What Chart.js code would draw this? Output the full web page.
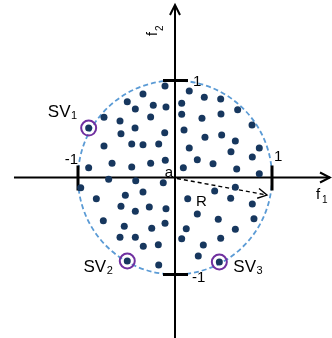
<!DOCTYPE html>
<html>
<head>
<meta charset="utf-8">
<script src="https://cdn.jsdelivr.net/npm/chart.js@4"></script>
<style>
  html, body { margin: 0; padding: 0; background: #fff; }
  #wrap { width: 332px; height: 338px; }
</style>
</head>
<body>
<div id="wrap"><canvas id="chart"></canvas></div>
<script>
// ------------------ DATA ------------------
// sample points inside the unit circle (f1, f2)
const xs = [-0.103, -0.330, -0.492, -0.224, -0.409, -0.093, -0.732, -0.567, -0.251, -0.890,
            -0.412, -0.557, -0.106, -0.732, -0.446, -0.330, -0.168, -0.890, -0.649, -0.446,
            -0.251, -0.100, 0.147, 0.302, 0.471, 0.069, 0.069, 0.278, 0.474, 0.646,
            0.794, 0.093, 0.309, 0.481, 0.622, 0.147, 0.577, 0.869, 0.230, 0.392,
            0.797, 0.086, 0.636, 0.869, -0.684, -0.405, -0.972, -0.121, -0.811, -0.512,
            -0.330, -0.557, -0.409, -0.265, -0.093, -0.739, -0.523, -0.240, -0.103, -0.567,
            -0.409, -0.327, -0.172, -0.492, -0.168, 0.622, 0.409, 0.131, 0.574, 0.797,
            0.230, 0.446, 0.814, 0.116, 0.622, 0.069, 0.471, 0.292, 0.240, 0.457];
const ys = [0.943, 0.861, 0.781, 0.744, 0.706, 0.727, 0.621, 0.582, 0.624, 0.510,
            0.510, 0.452, 0.462, 0.325, 0.345, 0.338, 0.345, 0.101, 0.146, 0.108,
            0.146, 0.177, 0.892, 0.827, 0.809, 0.765, 0.652, 0.610, 0.655, 0.699,
            0.541, 0.490, 0.414, 0.438, 0.376, 0.304, 0.266, 0.304, 0.184, 0.142,
            0.211, 0.101, 0.088, 0.039, -0.019, -0.033, -0.105, -0.054, -0.219, -0.184,
            -0.149, -0.297, -0.348, -0.304, -0.322, -0.445, -0.503, -0.524, -0.472, -0.616,
            -0.616, -0.709, -0.693, -0.861, -0.902, -0.101, -0.139, -0.219, -0.214, -0.273,
            -0.376, -0.431, -0.425, -0.528, -0.534, -0.631, -0.627, -0.696, -0.809, -0.871];

// support vectors
const svLabels = ["1", "2", "3"];
const svX = [-0.890, -0.492, 0.457];
const svY = [0.510, -0.861, -0.871];

const tickLabels = ["1", "-1"];
const radius = 1;
const rAngle = -10.8; // degrees, direction of the R arrow

// ------------------ DRAWING ------------------
const FONT = '"Liberation Sans", Arial, sans-serif';

function chevron(ctx, x, y, ang, len, half) {
  ctx.beginPath();
  const bx = x - len * Math.cos(ang), by = y - len * Math.sin(ang);
  const nx = -Math.sin(ang) * half, ny = Math.cos(ang) * half;
  ctx.moveTo(bx + nx, by + ny);
  ctx.lineTo(x, y);
  ctx.lineTo(bx - nx, by - ny);
  ctx.stroke();
}

const figure = {
  id: "figure",
  beforeDatasetsDraw(chart) {
    const ctx = chart.ctx, sx = chart.scales.x, sy = chart.scales.y;
    const cx = sx.getPixelForValue(0), cy = sy.getPixelForValue(0);
    const ux = sx.getPixelForValue(1) - cx;
    ctx.save();

    // dashed circle
    ctx.strokeStyle = "#5b9bd5"; ctx.lineWidth = 1.8; ctx.setLineDash([5, 3]);
    ctx.beginPath();
    ctx.arc(cx, cy, radius * ux, 0, Math.PI * 2);
    ctx.stroke();
    ctx.setLineDash([]);

    // axes
    ctx.strokeStyle = "#000"; ctx.lineWidth = 2;
    const xl = sx.getPixelForValue(-1.66), xr = sx.getPixelForValue(1.598);
    const yt = sy.getPixelForValue(1.778), yb = sy.getPixelForValue(-1.66);
    ctx.beginPath();
    ctx.moveTo(xl, cy); ctx.lineTo(xr, cy);
    ctx.moveTo(cx, yb); ctx.lineTo(cx, yt);
    ctx.stroke();
    chevron(ctx, xr, cy, 0, 10, 5);
    chevron(ctx, cx, yt, -Math.PI / 2, 10, 5);

    // ticks at +-1
    ctx.lineWidth = 3;
    const p1x = sx.getPixelForValue(1), m1x = sx.getPixelForValue(-1);
    const p1y = sy.getPixelForValue(1), m1y = sy.getPixelForValue(-1);
    ctx.beginPath();
    ctx.moveTo(p1x, cy - 12); ctx.lineTo(p1x, cy + 13);
    ctx.moveTo(m1x, cy - 12); ctx.lineTo(m1x, cy + 13);
    ctx.moveTo(cx - 12, p1y); ctx.lineTo(cx + 13, p1y);
    ctx.moveTo(cx - 12, m1y); ctx.lineTo(cx + 13, m1y);
    ctx.stroke();

    // R arrow
    const a = rAngle * Math.PI / 180;
    const ex = sx.getPixelForValue(0.965 * Math.cos(a)), ey = sy.getPixelForValue(0.965 * Math.sin(a));
    ctx.lineWidth = 1.4; ctx.setLineDash([4, 3]);
    ctx.beginPath(); ctx.moveTo(cx + 2, cy + 1); ctx.lineTo(ex, ey); ctx.stroke();
    ctx.setLineDash([]);
    chevron(ctx, ex, ey, Math.atan2(ey - cy, ex - cx), 9, 5);

    // text
    ctx.fillStyle = "#000";
    ctx.font = "15px " + FONT;
    ctx.textBaseline = "middle";
    ctx.textAlign = "left";
    ctx.fillText(tickLabels[0], cx + 18, p1y + 1);
    ctx.fillText(tickLabels[0], p1x + 2, cy - 21);
    ctx.fillText(tickLabels[1], cx + 17, m1y + 3);
    ctx.textAlign = "right";
    ctx.fillText(tickLabels[1], m1x, cy - 18);

    ctx.font = "15px " + FONT;
    ctx.textBaseline = "alphabetic";
    ctx.fillText("a", cx - 2, cy - 1);
    ctx.textAlign = "left";
    ctx.fillText("R", cx + 21, cy + 28);

    // f1
    ctx.font = "15px " + FONT;
    ctx.fillText("f", xr - 14, cy + 21);
    ctx.font = "10px " + FONT;
    ctx.fillText("1", xr - 8, cy + 25);

    // f2 (rotated)
    ctx.save();
    ctx.translate(cx - 18, yt + 31);
    ctx.rotate(-Math.PI / 2);
    ctx.font = "14px " + FONT;
    ctx.fillText("f", 0, 0);
    ctx.font = "10px " + FONT;
    ctx.fillText("2", 5, 6);
    ctx.restore();

    // SV labels
    const offs = [[-12, -11, "right"], [-15, 11, "right"], [14, 10, "left"]];
    svLabels.forEach((s, i) => {
      const px = sx.getPixelForValue(svX[i]), py = sy.getPixelForValue(svY[i]);
      const [dx, dy, al] = offs[i];
      ctx.font = "17px " + FONT;
      const w = ctx.measureText("SV").width;
      ctx.font = "11px " + FONT;
      const ws = ctx.measureText(s).width;
      const left = al === "right" ? px + dx - w - ws : px + dx;
      ctx.textAlign = "left";
      ctx.font = "17px " + FONT;
      ctx.fillText("SV", left, py + dy);
      ctx.font = "11px " + FONT;
      ctx.fillText(s, left + w + 0.5, py + dy + 2);
    });

    ctx.restore();
  }
};

const points = xs.map((x, i) => ({ x: x, y: ys[i] }));
const svPoints = svX.map((x, i) => ({ x: x, y: svY[i] }));

new Chart(document.getElementById("chart"), {
  type: "scatter",
  data: {
    datasets: [
      { data: points, pointRadius: 3.5, pointBackgroundColor: "#17375e", pointBorderWidth: 0 },
      { data: svPoints, pointRadius: 7.5, pointBackgroundColor: "rgba(0,0,0,0)",
        pointBorderColor: "#7030a0", pointBorderWidth: 2 }
    ]
  },
  options: {
    responsive: true, maintainAspectRatio: false, animation: false,
    layout: { padding: 0, autoPadding: false },
    plugins: { legend: { display: false }, tooltip: { enabled: false } },
    scales: {
      x: { type: "linear", display: false, min: -175 / 97, max: 157 / 97 },
      y: { type: "linear", display: false, min: -160.5 / 97, max: 177.5 / 97 }
    }
  },
  plugins: [figure]
});
</script>
</body>
</html>
